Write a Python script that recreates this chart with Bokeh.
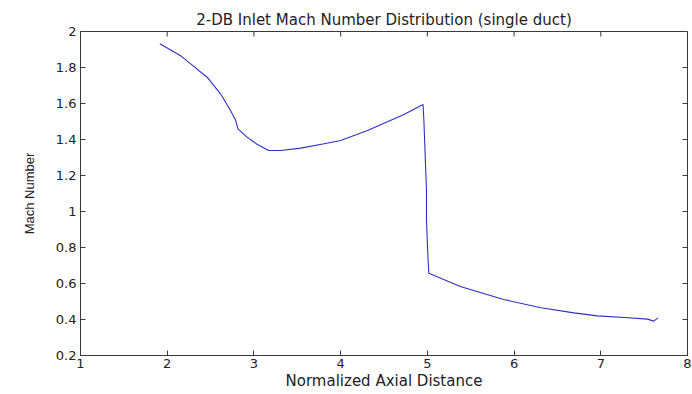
import math
from bokeh.plotting import figure
from bokeh.models import Range1d, LinearAxis, FixedTicker
from bokeh.embed import file_html
from bokeh.resources import INLINE

# Data
distance = [1.915, 2.15, 2.27, 2.46, 2.615, 2.73, 2.79, 2.815, 2.92, 3.04, 3.17,
            3.31, 3.54, 3.81, 4.0, 4.31, 4.73, 4.95, 4.96, 4.99, 4.99, 5.006,
            5.017, 5.38, 5.88, 6.31, 6.69, 6.96, 7.27, 7.54, 7.61, 7.66]
mach = [1.932, 1.867, 1.82, 1.746, 1.654, 1.561, 1.506, 1.459, 1.413, 1.372, 1.339,
        1.339, 1.352, 1.376, 1.394, 1.45, 1.539, 1.594, 1.506, 1.117, 0.95, 0.756,
        0.657, 0.583, 0.511, 0.465, 0.437, 0.42, 0.411, 0.402, 0.391, 0.409]

x_ticks = [1, 2, 3, 4, 5, 6, 7, 8]
x_tick_labels = ["1", "2", "3", "4", "5", "6", "7", "8"]
y_ticks = [0.2, 0.4, 0.6, 0.8, 1.0, 1.2, 1.4, 1.6, 1.8, 2.0]
y_tick_labels = ["0.2", "0.4", "0.6", "0.8", "1", "1.2", "1.4", "1.6", "1.8", "2"]

title_text = "2-DB Inlet Mach Number Distribution (single duct)"
x_label = "Normalized Axial Distance"
y_label = "Mach Number"

FONT = "DejaVu Sans"
AXIS_COLOR = "#3a3a3a"
TEXT_COLOR = "#222222"

x_min, x_max = x_ticks[0], x_ticks[-1]
y_min, y_max = y_ticks[0], y_ticks[-1]

p = figure(width=692, height=394, output_backend="svg", toolbar_location=None,
           x_range=Range1d(x_min, x_max), y_range=Range1d(y_min, y_max),
           min_border_left=80, min_border_right=5, min_border_top=31,
           min_border_bottom=39, x_axis_location=None, y_axis_location=None)

p.title.text = title_text
p.title.align = "center"
p.title.text_font = FONT
p.title.text_font_size = "15px"
p.title.text_font_style = "normal"
p.title.text_color = TEXT_COLOR
p.title.standoff = 5

p.grid.visible = False
p.outline_line_color = AXIS_COLOR
p.outline_line_width = 1
p.background_fill_color = "white"
p.border_fill_color = "white"


def style_axis(ax, ticks, labels):
    ax.ticker = FixedTicker(ticks=ticks)
    ax.major_label_overrides = {t: l for t, l in zip(ticks, labels)}
    ax.minor_tick_line_color = None
    ax.major_tick_in = 5
    ax.major_tick_out = 0
    ax.major_tick_line_color = AXIS_COLOR
    ax.axis_line_color = AXIS_COLOR
    ax.major_label_text_font = FONT
    ax.major_label_text_color = TEXT_COLOR
    ax.major_label_text_font_size = "13px"
    ax.axis_label_text_font_style = "normal"
    ax.axis_label_text_color = TEXT_COLOR


xb = LinearAxis(axis_label=x_label)
style_axis(xb, x_ticks, x_tick_labels)
xb.major_label_standoff = 3
xb.axis_label_text_font = FONT
xb.axis_label_text_font_size = "15px"
xb.axis_label_standoff = 1
p.add_layout(xb, "below")

yl = LinearAxis(axis_label=y_label)
style_axis(yl, y_ticks, y_tick_labels)
yl.major_label_standoff = 4
yl.axis_label_text_font = "Liberation Sans"
yl.axis_label_text_font_size = "13px"
yl.axis_label_standoff = 16
p.add_layout(yl, "left")

# inward ticks on the top and right edges of the box (MATLAB "box on")
p.ray(x=x_ticks, y=[y_max] * len(x_ticks), length=5, length_units="screen",
      angle=-math.pi / 2, line_color=AXIS_COLOR, line_width=1)
p.ray(x=[x_max] * len(y_ticks), y=y_ticks, length=5, length_units="screen",
      angle=math.pi, line_color=AXIS_COLOR, line_width=1)

p.line(distance, mach, line_color="#2f2fbf", line_width=1.1)

open("out.html", "w").write(file_html(p, INLINE))
